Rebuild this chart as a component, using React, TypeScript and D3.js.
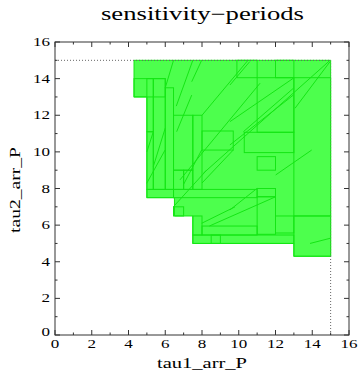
import { useEffect, useRef } from "react";
import * as d3 from "d3";

// outline of the sensitive region (tau1, tau2)
const outline: [number, number][] = [
    [4.3, 15], [15, 15], [15, 4.3], [13, 4.3], [13, 5], [7.5, 5], [7.5, 6.5],
    [6.5, 6.5], [6.5, 7.5], [5, 7.5], [5, 13], [4.3, 13],
];

// sub-cells [tau1 min, tau2 min, tau1 max, tau2 max]
const cells: [number, number, number, number][] = [
    [4.3, 13, 6.0, 14],
    [5.0, 11.1, 5.35, 14],
    [5.0, 7.95, 5.35, 11.1],
    [5.35, 7.95, 6.0, 14],
    [6.0, 7.95, 6.45, 13.5],
    [6.45, 9.0, 7.5, 12.0],
    [6.45, 7.95, 7.0, 9.0],
    [7.0, 7.95, 7.5, 9.0],
    [7.5, 7.95, 8.0, 12.0],
    [5.0, 7.5, 6.45, 7.95],
    [6.45, 7.5, 11.0, 7.95],
    [6.45, 6.5, 7.0, 7.0],
    [7.5, 5.46, 8.0, 6.5],
    [7.5, 5.0, 13.0, 5.46],
    [8.5, 5.0, 9.0, 5.46],
    [8.0, 5.46, 11.0, 5.95],
    [11.0, 5.5, 12.0, 7.55],
    [11.0, 7.55, 12.0, 8.0],
    [11.0, 9.0, 12.0, 9.74],
    [12.0, 9.74, 14.05, 9.74],
    [12.0, 5.57, 13.0, 6.5],
    [13.0, 4.3, 15.0, 6.5],
    [13.0, 6.5, 15.0, 14.05],
    [12.0, 14.05, 13.0, 15.0],
    [9.9, 14.05, 11.0, 15.0],
    [11.0, 11.07, 13.0, 14.05],
    [8.0, 10.1, 9.7, 11.14],
    [10.3, 9.96, 13.0, 11.07],
];

// slanted cell edges [tau1 a, tau2 a, tau1 b, tau2 b]
const slants: [number, number, number, number][] = [
    [6.0, 13.5, 6.45, 15.0],
    [5.0, 10.0, 5.35, 11.1],
    [4.99, 8.28, 5.99, 10.1],
    [5.35, 9.2, 6.0, 11.3],
    [6.62, 11.1, 7.44, 13.1],
    [7.44, 13.83, 7.98, 15.0],
    [6.6, 12.5, 7.5, 15.0],
    [6.98, 8.19, 7.98, 10.1],
    [8.07, 8.83, 14.97, 15.0],
    [6.8, 8.47, 11.16, 13.75],
    [13.06, 12.38, 14.97, 14.93],
    [9.52, 13.65, 10.6, 14.93],
    [9.52, 11.65, 12.97, 14.02],
    [10.25, 11.1, 12.97, 13.47],
    [9.52, 10.38, 12.97, 13.1],
    [8.0, 12.0, 10.5, 15.0],
    [9.52, 6.83, 11.0, 8.01],
    [8.4, 5.95, 12.01, 7.55],
    [12.01, 8.74, 13.97, 10.1],
    [13.88, 5.0, 14.97, 5.28],
    [6.44, 7.0, 8.25, 9.0],
    [7.98, 6.1, 9.8, 7.0],
    [8.0, 8.3, 9.7, 10.1],
];

const majorTicks = [0, 2, 4, 6, 8, 10, 12, 14, 16];
const minorTicks = [1, 3, 5, 7, 9, 11, 13, 15];
const tauMax = 15;
const edgeLow = 4.3;

export default function App() {
    const svgRef = useRef<SVGSVGElement | null>(null);

    useEffect(() => {
        if (!svgRef.current) return;
        const svg = d3.select(svgRef.current);
        svg.selectAll("*").remove();

        const x = d3.scaleLinear().domain([0, 16]).range([55, 349]);
        const y = d3.scaleLinear().domain([0, 16]).range([335, 42]);
        const fill = "#4dff4d";
        const edge = "#14e614";
        const font = "Liberation Serif";

        const line = d3.line<[number, number]>()
            .x((d) => x(d[0]))
            .y((d) => y(d[1]));

        const g = svg.append("g");

        g.append("path")
            .attr("d", line(outline)! + "Z")
            .attr("fill", fill)
            .attr("stroke", edge)
            .attr("stroke-width", 1);

        g.selectAll("rect.cell")
            .data(cells)
            .enter()
            .append("rect")
            .attr("class", "cell")
            .attr("x", (d) => x(d[0]))
            .attr("y", (d) => y(d[3]))
            .attr("width", (d) => x(d[2]) - x(d[0]))
            .attr("height", (d) => y(d[1]) - y(d[3]))
            .attr("fill", "none")
            .attr("stroke", edge)
            .attr("stroke-width", 1);

        g.selectAll("line.slant")
            .data(slants)
            .enter()
            .append("line")
            .attr("class", "slant")
            .attr("x1", (d) => x(d[0]))
            .attr("y1", (d) => y(d[1]))
            .attr("x2", (d) => x(d[2]))
            .attr("y2", (d) => y(d[3]))
            .attr("stroke", edge)
            .attr("stroke-width", 1);

        // dotted limits
        g.append("line")
            .attr("x1", x(0)).attr("x2", x(tauMax))
            .attr("y1", y(tauMax)).attr("y2", y(tauMax))
            .attr("stroke", "#666").attr("stroke-dasharray", "1,2");
        g.append("line")
            .attr("x1", x(tauMax)).attr("x2", x(tauMax))
            .attr("y1", y(0)).attr("y2", y(edgeLow))
            .attr("stroke", "#666").attr("stroke-dasharray", "1,2");
        g.append("line")
            .attr("x1", x(tauMax)).attr("x2", x(tauMax))
            .attr("y1", y(edgeLow)).attr("y2", y(tauMax))
            .attr("stroke", "#5a5").attr("stroke-dasharray", "1,2");

        // frame
        svg.append("rect")
            .attr("x", x(0)).attr("y", y(16))
            .attr("width", x(16) - x(0)).attr("height", y(0) - y(16))
            .attr("fill", "none").attr("stroke", "#333").attr("stroke-width", 1);

        // inward ticks on all sides
        const ticks = [
            ...majorTicks.map((v) => ({ v, len: 5 })),
            ...minorTicks.map((v) => ({ v, len: 2.5 })),
        ];
        const tg = svg.append("g").attr("stroke", "#333").attr("stroke-width", 1);
        ticks.forEach(({ v, len }) => {
            tg.append("line").attr("x1", x(v)).attr("x2", x(v)).attr("y1", y(0)).attr("y2", y(0) - len);
            tg.append("line").attr("x1", x(v)).attr("x2", x(v)).attr("y1", y(16)).attr("y2", y(16) + len);
            tg.append("line").attr("y1", y(v)).attr("y2", y(v)).attr("x1", x(0)).attr("x2", x(0) + len);
            tg.append("line").attr("y1", y(v)).attr("y2", y(v)).attr("x1", x(16)).attr("x2", x(16) - len);
        });

        // tick labels
        const lbl = (d: number) => String(d).length * 8.5;
        svg.append("g")
            .selectAll("text")
            .data(majorTicks)
            .enter()
            .append("text")
            .attr("x", (d) => x(d) - lbl(d) / 2)
            .attr("y", y(0) + 13)
            .attr("font-family", font)
            .attr("font-size", 13)
            .attr("textLength", lbl)
            .attr("lengthAdjust", "spacingAndGlyphs")
            .text((d) => d);

        svg.append("g")
            .selectAll("text")
            .data(majorTicks.slice(1))
            .enter()
            .append("text")
            .attr("x", (d) => x(0) - 5 - lbl(d))
            .attr("y", (d) => y(d) + 4)
            .attr("font-family", font)
            .attr("font-size", 13)
            .attr("textLength", lbl)
            .attr("lengthAdjust", "spacingAndGlyphs")
            .text((d) => d);
        svg.append("text")
            .attr("x", x(0) - 5 - lbl(0))
            .attr("y", y(0) + 1)
            .attr("font-family", font)
            .attr("font-size", 13)
            .attr("textLength", lbl(0))
            .attr("lengthAdjust", "spacingAndGlyphs")
            .text("0");

        // title and axis labels
        svg.append("text")
            .attr("x", 101).attr("y", 20)
            .attr("font-family", font).attr("font-size", 18)
            .attr("textLength", 203).attr("lengthAdjust", "spacingAndGlyphs")
            .text("sensitivity\u2212periods");

        svg.append("text")
            .attr("x", 157).attr("y", 368)
            .attr("font-family", font).attr("font-size", 14)
            .attr("textLength", 90).attr("lengthAdjust", "spacingAndGlyphs")
            .text("tau1_arr_P");

        svg.append("text")
            .attr("transform", "translate(20,233) rotate(-90)")
            .attr("font-family", font).attr("font-size", 14)
            .attr("textLength", 86).attr("lengthAdjust", "spacingAndGlyphs")
            .text("tau2_arr_P");
    }, []);

    return (
        <svg
            ref={svgRef}
            width={362}
            height={376}
            style={{ position: "absolute", left: 0, top: 0, background: "#fff" }}
        ></svg>
    );
}
